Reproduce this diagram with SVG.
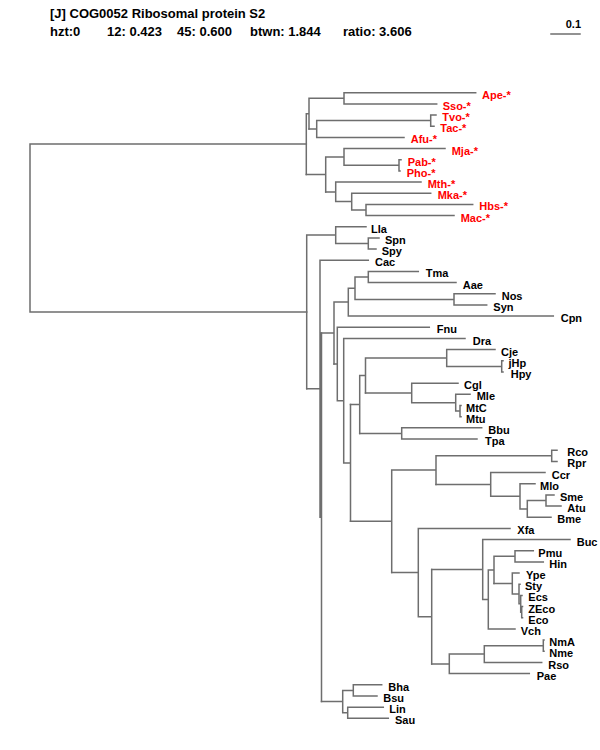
<svg xmlns="http://www.w3.org/2000/svg" width="600" height="750" viewBox="0 0 600 750">
<style>
.br{fill:none;stroke:#6e6e6e;stroke-width:1.5;stroke-linecap:square}
.lb{font-family:"Liberation Sans",Arial,Helvetica,sans-serif;font-weight:bold;font-size:11px;fill:#000}
.ar{fill:#ff0000}
.hd{font-family:"Liberation Sans",Arial,Helvetica,sans-serif;font-weight:bold;font-size:13px;fill:#000}
</style>
<rect width="600" height="750" fill="#fff"/>
<g id="title">
<text class="hd" x="50" y="18">[J] COG0052 Ribosomal protein S2</text>
<text class="hd" x="50" y="36">hzt:0</text>
<text class="hd" x="107" y="36">12: 0.423</text>
<text class="hd" x="177" y="36">45: 0.600</text>
<text class="hd" x="250" y="36">btwn: 1.844</text>
<text class="hd" x="343" y="36">ratio: 3.606</text>
</g>
<g id="scale">
<path class="br" d="M551 34 H580"/>
<text class="lb" x="581" y="28" text-anchor="end">0.1</text>
</g>
<g id="connectors" class="br">
<path d="M30 144 V312 M30 144 H306.3 M30 312 H306.7"/>
<path d="M306.3 113.7 V174.4 M306.3 113.7 H309 M309 98.3 V129 M309 98.3 H344 M344 92.7 V103.9 M344 92.7 H475.7 M344 103.9 H436.7"/>
<path d="M309 129 H316.7 M316.7 120.6 V137.4 M316.7 120.6 H430.7 M430.7 115 V126.2 M430.7 115 H436 M430.7 126.2 H434 M316.7 137.4 H404"/>
<path d="M306.3 174.4 H325.7 M325.7 157 V191.9 M325.7 157 H344 M344 148.6 V165.3 M344 148.6 H445 M344 165.3 H399 M399 159.7 V170.9 M399 159.7 H401 M399 170.9 H400"/>
<path d="M325.7 191.9 H335.7 M335.7 182.1 V201.6 M335.7 182.1 H421 M335.7 201.6 H351.7 M351.7 193.2 V210 M351.7 193.2 H430.7 M351.7 210 H366 M366 204.4 V215.6 M366 204.4 H472.7 M366 215.6 H454"/>
<path d="M306.7 235.1 V388.8 M306.7 235.1 H335.7 M335.7 226.7 V243.5 M335.7 226.7 H366 M335.7 243.5 H368.3 M368.3 237.9 V249.1 M368.3 237.9 H379 M368.3 249.1 H376"/>
<path d="M306.7 388.8 H320 M320 260.3 V517.3 M320 260.3 H368.3 M320 517.3 H321.5 M321.5 333.1 V701.6"/>
<path d="M321.5 333.1 H334 M334 302.1 V364 M334 302.1 H348.3 M348.3 288.2 V316.1 M348.3 316.1 H553.3 M348.3 288.2 H355 M355 277 V299.4 M355 277 H368.3 M368.3 271.4 V282.6 M368.3 271.4 H418.3 M368.3 282.6 H456 M355 299.4 H454 M454 293.8 V304.9 M454 293.8 H495 M454 304.9 H486.7"/>
<path d="M334 364 H337.3 M337.3 327.3 V400.7 M337.3 327.3 H429.3 M337.3 400.7 H343.7 M343.7 338.5 V462.9 M343.7 338.5 H465 M343.7 462.9 H350.5 M350.5 404.5 V521.3"/>
<path d="M350.5 404.5 H359.7 M359.7 375.5 V433.4 M359.7 375.5 H365.5 M365.5 358 V393 M365.5 358 H446.7 M446.7 349.6 V366.4 M446.7 349.6 H495 M446.7 366.4 H501.7 M501.7 360.8 V372 M501.7 360.8 H503 M501.7 372 H503"/>
<path d="M365.5 393 H411.7 M411.7 383.2 V402.7 M411.7 383.2 H458 M411.7 402.7 H455.7 M455.7 394.3 V411.1 M455.7 394.3 H470 M455.7 411.1 H460 M460 405.5 V416.7 M460 405.5 H461 M460 416.7 H461"/>
<path d="M359.7 433.4 H401.7 M401.7 427.8 V439 M401.7 427.8 H481.7 M401.7 439 H477"/>
<path d="M350.5 521.3 H391.7 M391.7 470.1 V572.5 M391.7 470.1 H436 M436 455.8 V484.4 M436 455.8 H551.7 M551.7 450.2 V461.4 M551.7 450.2 H557 M551.7 461.4 H557"/>
<path d="M436 484.4 H490.7 M490.7 472.5 V496.3 M490.7 472.5 H545 M490.7 496.3 H520 M520 483.7 V508.9 M520 483.7 H535 M520 508.9 H527.3 M527.3 500.5 V517.2 M527.3 517.2 H551 M527.3 500.5 H546 M546 494.9 V506.1 M546 494.9 H554 M546 506.1 H561"/>
<path d="M391.7 572.5 H418.3 M418.3 528.4 V616.7 M418.3 528.4 H510 M418.3 616.7 H431.7 M431.7 569.5 V663.9"/>
<path d="M431.7 569.5 H482.7 M482.7 539.6 V599.4 M482.7 539.6 H570 M482.7 599.4 H488.3 M488.3 570 V628.9 M488.3 628.9 H515 M488.3 570 H494 M494 556.3 V583.6 M494 556.3 H515 M515 550.7 V561.9 M515 550.7 H533.3 M515 561.9 H543.3"/>
<path d="M494 583.6 H512.3 M512.3 573.1 V594 M512.3 573.1 H519 M512.3 594 H519 M519 584.3 V603.8 M519 584.3 H520 M519 603.8 H520.7 M520.7 595.4 V612.2 M520.7 595.4 H522 M520.7 612.2 H521.7 M521.7 606.6 V617.8 M521.7 606.6 H522.5 M521.7 617.8 H522.5"/>
<path d="M431.7 663.9 H449.3 M449.3 654.1 V673.6 M449.3 673.6 H529.3 M449.3 654.1 H484.3 M484.3 645.7 V662.5 M484.3 662.5 H541.7 M484.3 645.7 H543.3 M543.3 640.1 V651.3 M543.3 640.1 H544 M543.3 651.3 H544"/>
<path d="M321.5 701.6 H342.7 M342.7 690.4 V712.8 M342.7 690.4 H353.3 M353.3 684.8 V696 M353.3 684.8 H381.7 M353.3 696 H377 M342.7 712.8 H347.7 M347.7 707.2 V718.3 M347.7 707.2 H383.3 M347.7 718.3 H388.3"/>
</g>
<g id="n-Ape"><text class="lb ar" x="482" y="99">Ape-*</text></g>
<g id="n-Sso"><text class="lb ar" x="442.7" y="110">Sso-*</text></g>
<g id="n-Tvo"><text class="lb ar" x="442.3" y="121">Tvo-*</text></g>
<g id="n-Tac"><text class="lb ar" x="440.3" y="132.2">Tac-*</text></g>
<g id="n-Afu"><text class="lb ar" x="410.7" y="143.4">Afu-*</text></g>
<g id="n-Mja"><text class="lb ar" x="451.7" y="154.6">Mja-*</text></g>
<g id="n-Pab"><text class="lb ar" x="407.7" y="165.7">Pab-*</text></g>
<g id="n-Pho"><text class="lb ar" x="406.7" y="176.9">Pho-*</text></g>
<g id="n-Mth"><text class="lb ar" x="427.7" y="188.1">Mth-*</text></g>
<g id="n-Mka"><text class="lb ar" x="437.7" y="199.2">Mka-*</text></g>
<g id="n-Hbs"><text class="lb ar" x="479.3" y="210.4">Hbs-*</text></g>
<g id="n-Mac"><text class="lb ar" x="460.7" y="221.6">Mac-*</text></g>
<g id="n-Lla"><text class="lb" x="371" y="232.7">Lla</text></g>
<g id="n-Spn"><text class="lb" x="385" y="243.9">Spn</text></g>
<g id="n-Spy"><text class="lb" x="381.7" y="255.1">Spy</text></g>
<g id="n-Cac"><text class="lb" x="375" y="266.3">Cac</text></g>
<g id="n-Tma"><text class="lb" x="425.7" y="277.4">Tma</text></g>
<g id="n-Aae"><text class="lb" x="462.7" y="288.6">Aae</text></g>
<g id="n-Nos"><text class="lb" x="501.7" y="299.8">Nos</text></g>
<g id="n-Syn"><text class="lb" x="493.3" y="310.9">Syn</text></g>
<g id="n-Cpn"><text class="lb" x="560.7" y="322.1">Cpn</text></g>
<g id="n-Fnu"><text class="lb" x="436.7" y="333.3">Fnu</text></g>
<g id="n-Dra"><text class="lb" x="472.7" y="344.5">Dra</text></g>
<g id="n-Cje"><text class="lb" x="501" y="355.6">Cje</text></g>
<g id="n-jHp"><text class="lb" x="508.5" y="366.8">jHp</text></g>
<g id="n-Hpy"><text class="lb" x="510.7" y="378">Hpy</text></g>
<g id="n-Cgl"><text class="lb" x="464" y="389.2">Cgl</text></g>
<g id="n-Mle"><text class="lb" x="476.7" y="400.3">Mle</text></g>
<g id="n-MtC"><text class="lb" x="466" y="411.5">MtC</text></g>
<g id="n-Mtu"><text class="lb" x="466" y="422.7">Mtu</text></g>
<g id="n-Bbu"><text class="lb" x="488.3" y="433.8">Bbu</text></g>
<g id="n-Tpa"><text class="lb" x="485" y="445">Tpa</text></g>
<g id="n-Rco"><text class="lb" x="567.3" y="456.2">Rco</text></g>
<g id="n-Rpr"><text class="lb" x="567.3" y="467.4">Rpr</text></g>
<g id="n-Ccr"><text class="lb" x="551.7" y="478.5">Ccr</text></g>
<g id="n-Mlo"><text class="lb" x="540" y="489.7">Mlo</text></g>
<g id="n-Sme"><text class="lb" x="560" y="500.9">Sme</text></g>
<g id="n-Atu"><text class="lb" x="567.3" y="512.1">Atu</text></g>
<g id="n-Bme"><text class="lb" x="557.3" y="523.2">Bme</text></g>
<g id="n-Xfa"><text class="lb" x="517.3" y="534.4">Xfa</text></g>
<g id="n-Buc"><text class="lb" x="576.7" y="545.6">Buc</text></g>
<g id="n-Pmu"><text class="lb" x="538.3" y="556.7">Pmu</text></g>
<g id="n-Hin"><text class="lb" x="549.3" y="567.9">Hin</text></g>
<g id="n-Ype"><text class="lb" x="526" y="579.1">Ype</text></g>
<g id="n-Sty"><text class="lb" x="525" y="590.3">Sty</text></g>
<g id="n-Ecs"><text class="lb" x="528.3" y="601.4">Ecs</text></g>
<g id="n-ZEco"><text class="lb" x="528.3" y="612.6">ZEco</text></g>
<g id="n-Eco"><text class="lb" x="528.3" y="623.8">Eco</text></g>
<g id="n-Vch"><text class="lb" x="520.7" y="634.9">Vch</text></g>
<g id="n-NmA"><text class="lb" x="549.3" y="646.1">NmA</text></g>
<g id="n-Nme"><text class="lb" x="549.3" y="657.3">Nme</text></g>
<g id="n-Rso"><text class="lb" x="548.3" y="668.5">Rso</text></g>
<g id="n-Pae"><text class="lb" x="536.7" y="679.6">Pae</text></g>
<g id="n-Bha"><text class="lb" x="388.3" y="690.8">Bha</text></g>
<g id="n-Bsu"><text class="lb" x="383.3" y="702">Bsu</text></g>
<g id="n-Lin"><text class="lb" x="389.3" y="713.2">Lin</text></g>
<g id="n-Sau"><text class="lb" x="395" y="724.3">Sau</text></g>
</svg>
